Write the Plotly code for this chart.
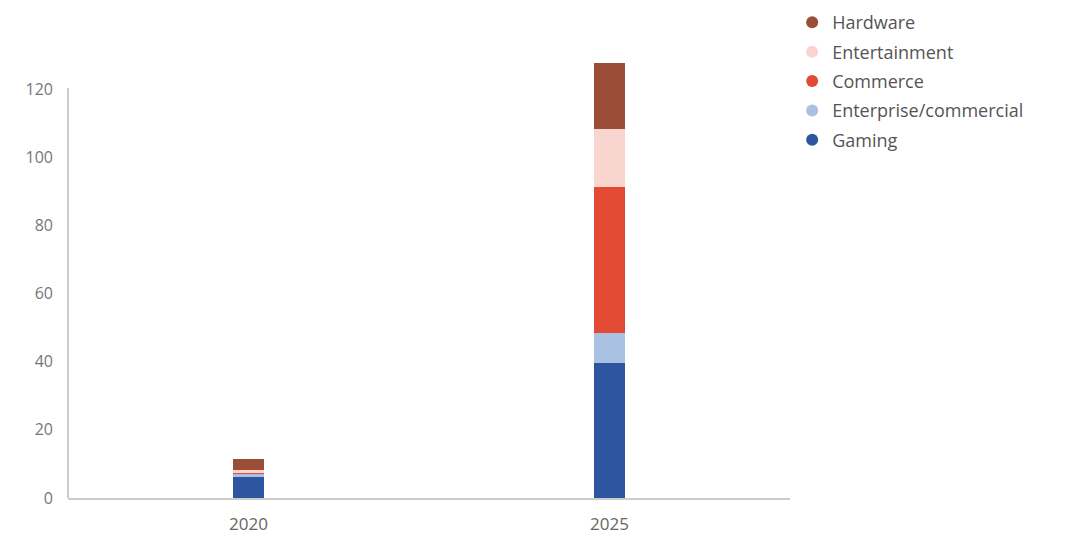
import plotly.graph_objects as go

years = ["2020", "2025"]
gaming = [6.3, 39.7]
enterprise = [1.0, 8.7]
commerce = [0.1, 42.8]
entertainment = [0.7, 17.0]
hardware = [3.4, 19.4]

series = [
    ("Gaming", gaming, "#2e56a0"),
    ("Enterprise/commercial", enterprise, "#a9c1e2"),
    ("Commerce", commerce, "#e34a33"),
    ("Entertainment", entertainment, "#f8d6cf"),
    ("Hardware", hardware, "#9a4e38"),
]

y_ticks = [0, 20, 40, 60, 80, 100, 120]

fig = go.Figure()
for name, vals, col in series:
    fig.add_trace(go.Bar(x=years, y=vals, name=name, marker=dict(color=col, line=dict(width=0)),
                         width=0.088, showlegend=False))
for name, vals, col in reversed(series):
    fig.add_trace(go.Scatter(x=[None], y=[None], mode="markers", name=name,
                             marker=dict(size=16, color=col, symbol="circle"),
                             legendgroup=name, showlegend=True))

fig.update_layout(
    barmode="stack",
    width=1084, height=534,
    margin=dict(l=68, r=294, t=55, b=36, autoexpand=False),
    paper_bgcolor="white", plot_bgcolor="white",
    font=dict(family="Open Sans", color="#666666"),
    legend=dict(x=1.003, y=1.115, xanchor="left", yanchor="top",
                traceorder="grouped", tracegroupgap=3,
                font=dict(size=18, color="#555555"), itemsizing="constant"),
    xaxis=dict(showgrid=False, showline=True, linecolor="#cccccc", linewidth=2,
               ticks="", tickfont=dict(size=17, color="#666666"), zeroline=False,
               range=[-0.5, 1.5], automargin=False, ticklabelstandoff=10),
    yaxis=dict(range=[0, 130], tickvals=y_ticks, showgrid=False, showline=False,
               zeroline=False, ticks="", tickfont=dict(size=16, color="#777777"),
               ticklabelstandoff=14, automargin=False),
)
fig.add_shape(type="line", xref="paper", yref="y", x0=0, x1=0, y0=0, y1=120.3,
              line=dict(color="#cccccc", width=2))

fig.write_html("out.html")
